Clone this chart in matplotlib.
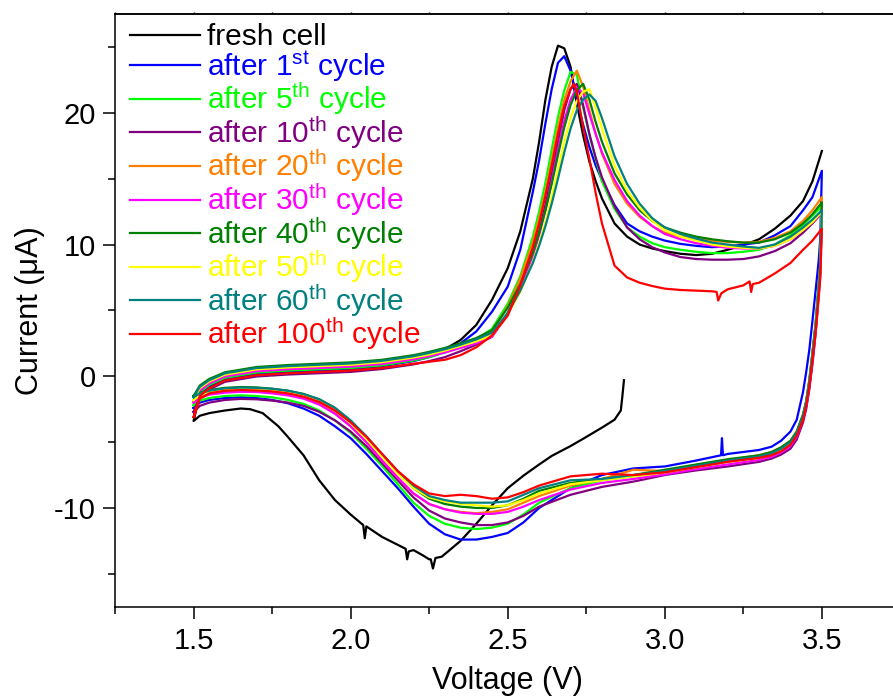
import numpy as np
import matplotlib
matplotlib.use('Agg')
import matplotlib.pyplot as plt
from matplotlib.ticker import MultipleLocator

plt.rcParams['font.family'] = ['Liberation Sans', 'DejaVu Sans']
plt.rcParams['mathtext.fontset'] = 'custom'
plt.rcParams['mathtext.rm'] = 'Liberation Sans'
plt.rcParams['mathtext.it'] = 'Liberation Sans:italic'
plt.rcParams['mathtext.bf'] = 'Liberation Sans:bold'
plt.rcParams['axes.unicode_minus'] = False

# ---- data (V, uA) ----
# anodic sweep voltages, 1.5 -> 3.5 V
V_UP = [1.50, 1.52, 1.55, 1.60, 1.70, 1.80, 1.90, 2.00, 2.10, 2.20,
        2.25, 2.30, 2.35, 2.40, 2.45, 2.50, 2.54, 2.58, 2.60, 2.62,
        2.64, 2.66, 2.68, 2.70, 2.72, 2.74, 2.76, 2.78, 2.80, 2.84,
        2.88, 2.92, 2.96, 3.00, 3.05, 3.10, 3.15, 3.20, 3.25, 3.30,
        3.35, 3.40, 3.44, 3.47, 3.50]
# cathodic sweep voltages, 3.5 -> 1.5 V
V_DN = [3.50, 3.495, 3.49, 3.48, 3.47, 3.46, 3.45, 3.44, 3.42, 3.40,
        3.37, 3.34, 3.30, 3.20, 3.10, 3.00, 2.90, 2.80, 2.70, 2.60,
        2.55, 2.50, 2.45, 2.40, 2.35, 2.30, 2.25, 2.20, 2.15, 2.10,
        2.05, 2.00, 1.95, 1.90, 1.85, 1.80, 1.75, 1.70, 1.65, 1.60,
        1.55, 1.52, 1.50]

# fresh cell: OCV -> 1.5 V, then 1.5 -> 3.5 V
fresh_dn_v = [2.87, 2.865, 2.86, 2.84, 2.80, 2.74, 2.70, 2.64, 2.60, 2.55,
              2.50, 2.45, 2.40, 2.35, 2.32, 2.29, 2.27, 2.262, 2.255, 2.25,
              2.23, 2.20, 2.185, 2.18, 2.175, 2.15, 2.10, 2.05, 2.045, 2.04,
              2.00, 1.95, 1.90, 1.85, 1.80, 1.77, 1.72, 1.68, 1.65, 1.60,
              1.55, 1.52, 1.50]
fresh_dn = [-0.3, -1.5, -2.6, -3.3, -3.9, -4.75, -5.3, -6.05, -6.7, -7.55,
            -8.5, -9.8, -11.2, -12.5, -13.1, -13.7, -13.8, -14.6, -13.9, -13.9,
            -13.6, -13.2, -13.3, -13.9, -13.1, -12.8, -12.2, -11.4, -12.3, -11.3,
            -10.5, -9.4, -7.9, -6.0, -4.6, -3.8, -2.8, -2.5, -2.45, -2.6,
            -2.8, -3.0, -3.4]
fresh_up = [-3.4, -1.4, -0.8, -0.25, 0.15, 0.3, 0.4, 0.52, 0.78, 1.2,
            1.55, 2.05, 2.75, 3.9, 5.8, 8.2, 11.0, 15.0, 17.8, 21.0,
            23.5, 25.1, 24.9, 23.5, 20.7, 18.3, 16.3, 14.8, 13.5, 11.6,
            10.6, 10.0, 9.7, 9.5, 9.3, 9.2, 9.3, 9.6, 9.95, 10.4,
            11.2, 12.2, 13.3, 14.8, 17.1]

# after 1st cycle (own cathodic grid, it has a spike near 3.18 V)
c1_up = [-2.4, -1.3, -0.75, -0.2, 0.2, 0.35, 0.45, 0.55, 0.78, 1.15,
         1.45, 1.85, 2.5, 3.4, 4.9, 6.8, 9.6, 14.0, 16.4, 19.2,
         21.8, 23.8, 24.3, 23.2, 21.0, 19.1, 17.4, 16.0, 14.9, 13.0,
         11.6, 11.0, 10.6, 10.3, 10.05, 9.9, 9.8, 9.85, 10.0, 10.15,
         10.7, 11.4, 12.6, 13.6, 15.6]
c1_dn_v = [3.50, 3.495, 3.49, 3.48, 3.47, 3.46, 3.45, 3.44, 3.42, 3.40,
           3.37, 3.34, 3.30, 3.20, 3.185, 3.182, 3.179, 3.10, 3.00, 2.90,
           2.80, 2.70, 2.60, 2.55, 2.50, 2.45, 2.40, 2.35, 2.30, 2.25,
           2.20, 2.15, 2.10, 2.05, 2.00, 1.95, 1.90, 1.85, 1.80, 1.75,
           1.70, 1.65, 1.60, 1.55, 1.52, 1.50]
c1_dn = [15.6, 10.5, 8.8, 6.5, 4.2, 2.0, 0.3, -1.2, -3.3, -4.2,
         -4.9, -5.35, -5.6, -5.9, -6.0, -4.7, -6.0, -6.4, -6.85, -7.0,
         -7.5, -8.5, -10.0, -11.1, -11.9, -12.2, -12.4, -12.4, -12.0, -11.2,
         -9.9, -8.5, -7.2, -5.9, -4.7, -3.8, -3.0, -2.45, -2.05, -1.8,
         -1.65, -1.6, -1.65, -1.8, -2.0, -2.4]

c5_up = [-2.2, -1.2, -0.65, -0.12, 0.28, 0.43, 0.53, 0.63, 0.83, 1.2,
         1.45, 1.8, 2.25, 2.8, 3.6, 5.5, 7.6, 10.6, 12.5, 14.7,
         17.2, 19.7, 21.7, 23.1, 22.9, 20.4, 18.3, 16.5, 14.8, 12.7,
         11.3, 10.6, 10.1, 9.8, 9.6, 9.45, 9.35, 9.35, 9.45, 9.6,
         10.0, 10.7, 11.5, 12.2, 12.9]
c5_dn = [12.9, 8.3, 6.8, 3.8, 1.6, -0.4, -2.0, -3.0, -4.3, -5.0,
         -5.45, -5.8, -6.1, -6.5, -6.9, -7.3, -7.6, -7.9, -8.5, -9.6,
         -10.5, -11.2, -11.5, -11.6, -11.5, -11.2, -10.6, -9.6, -8.2, -6.8,
         -5.5, -4.3, -3.35, -2.6, -2.1, -1.8, -1.6, -1.5, -1.45, -1.5,
         -1.65, -1.85, -2.2]

c10_up = [-2.7, -1.6, -1.0, -0.42, -0.02, 0.13, 0.23, 0.33, 0.55, 0.9,
          1.15, 1.45, 1.9, 2.4, 3.0, 4.8, 6.8, 9.4, 11.0, 13.0,
          15.3, 17.8, 20.2, 21.8, 22.2, 20.6, 18.4, 16.6, 15.1, 12.9,
          11.3, 10.4, 9.8, 9.4, 9.05, 8.9, 8.85, 8.85, 8.9, 9.1,
          9.5, 10.1, 10.9, 11.6, 12.4]
c10_dn = [12.4, 7.8, 6.2, 3.2, 0.9, -1.0, -2.5, -3.5, -4.8, -5.5,
          -5.95, -6.25, -6.5, -6.85, -7.15, -7.5, -8.0, -8.4, -9.0, -9.9,
          -10.6, -11.1, -11.3, -11.3, -11.1, -10.8, -10.2, -9.2, -7.9, -6.6,
          -5.3, -4.2, -3.35, -2.7, -2.25, -2.0, -1.85, -1.75, -1.72, -1.8,
          -2.0, -2.25, -2.7]

c20_up = [-1.9, -1.0, -0.45, 0.05, 0.45, 0.6, 0.7, 0.8, 1.0, 1.35,
          1.62, 1.95, 2.35, 2.8, 3.4, 5.3, 7.4, 10.2, 12.0, 14.0,
          16.4, 18.9, 21.0, 22.4, 23.2, 22.0, 20.2, 18.4, 16.9, 14.6,
          13.1, 12.1, 11.4, 10.9, 10.6, 10.45, 10.3, 10.2, 10.15, 10.2,
          10.5, 11.0, 11.8, 12.6, 13.6]
c20_dn = [13.6, 8.6, 7.0, 4.0, 1.8, -0.3, -1.9, -2.9, -4.2, -4.9,
          -5.4, -5.75, -6.0, -6.4, -6.8, -7.2, -7.1, -7.8, -8.3, -9.1,
          -9.6, -10.1, -10.3, -10.4, -10.3, -10.1, -9.7, -8.9, -7.7, -6.4,
          -5.0, -3.8, -2.8, -2.1, -1.65, -1.4, -1.25, -1.15, -1.12, -1.18,
          -1.35, -1.6, -1.9]

c30_up = [-2.0, -1.1, -0.55, -0.02, 0.38, 0.53, 0.63, 0.73, 0.93, 1.28,
          1.52, 1.8, 2.15, 2.5, 3.0, 4.7, 6.6, 9.1, 10.7, 12.6,
          14.8, 17.2, 19.4, 21.0, 21.9, 21.5, 19.9, 18.4, 17.0, 14.9,
          13.3, 12.2, 11.4, 10.8, 10.4, 10.1, 9.9, 9.75, 9.7, 9.7,
          9.9, 10.4, 11.1, 11.7, 12.4]
c30_dn = [12.4, 7.9, 6.3, 3.4, 1.2, -0.8, -2.3, -3.3, -4.6, -5.3,
          -5.8, -6.1, -6.35, -6.7, -7.05, -7.45, -7.8, -8.1, -8.6, -9.4,
          -9.9, -10.3, -10.45, -10.45, -10.35, -10.1, -9.7, -8.9, -7.7, -6.4,
          -5.0, -3.8, -2.85, -2.15, -1.7, -1.45, -1.3, -1.2, -1.18, -1.25,
          -1.4, -1.65, -2.0]

c40_up = [-1.5, -0.7, -0.2, 0.3, 0.7, 0.85, 0.95, 1.05, 1.25, 1.6,
          1.85, 2.15, 2.5, 2.9, 3.5, 5.2, 7.0, 9.4, 10.9, 12.6,
          14.6, 16.8, 18.9, 20.6, 21.7, 22.2, 21.0, 19.3, 17.8, 15.4,
          13.8, 12.6, 11.8, 11.3, 10.9, 10.6, 10.4, 10.25, 10.15, 10.15,
          10.4, 10.9, 11.6, 12.3, 13.2]
c40_dn = [13.2, 8.5, 7.0, 4.0, 1.8, -0.3, -1.9, -2.9, -4.2, -4.9,
          -5.4, -5.75, -6.0, -6.3, -6.7, -7.1, -7.5, -7.8, -8.1, -8.7,
          -9.3, -9.8, -10.0, -10.0, -9.9, -9.7, -9.3, -8.5, -7.3, -6.0,
          -4.6, -3.4, -2.4, -1.75, -1.35, -1.1, -0.95, -0.85, -0.82, -0.88,
          -1.05, -1.25, -1.5]

c50_up = [-1.8, -0.9, -0.4, 0.12, 0.52, 0.67, 0.77, 0.87, 1.07, 1.42,
          1.65, 1.95, 2.3, 2.65, 3.1, 4.7, 6.4, 8.7, 10.1, 11.7,
          13.6, 15.7, 17.8, 19.6, 20.9, 21.6, 21.8, 20.4, 18.8, 16.0,
          14.1, 12.8, 11.8, 11.1, 10.6, 10.3, 10.0, 9.85, 9.75, 9.7,
          9.9, 10.4, 11.1, 11.7, 12.5]
c50_dn = [12.5, 8.1, 6.6, 3.6, 1.5, -0.5, -2.1, -3.1, -4.4, -5.1,
          -5.6, -5.95, -6.2, -6.5, -6.9, -7.3, -7.6, -7.9, -8.2, -8.9,
          -9.4, -9.8, -9.9, -9.8, -9.7, -9.5, -9.2, -8.5, -7.4, -6.1,
          -4.75, -3.55, -2.55, -1.9, -1.5, -1.25, -1.1, -1.0, -0.98, -1.02,
          -1.2, -1.45, -1.8]

c60_up = [-1.6, -0.8, -0.3, 0.22, 0.62, 0.77, 0.87, 0.97, 1.17, 1.52,
          1.77, 2.05, 2.4, 2.8, 3.3, 4.8, 6.5, 8.6, 9.9, 11.4,
          13.1, 15.0, 17.0, 18.8, 20.2, 21.0, 21.4, 20.9, 19.6, 16.7,
          14.6, 13.1, 12.0, 11.3, 10.8, 10.45, 10.15, 10.0, 9.85, 9.75,
          10.0, 10.6, 11.3, 11.9, 12.6]
c60_dn = [12.6, 8.2, 6.7, 3.7, 1.6, -0.4, -2.0, -3.0, -4.3, -5.0,
          -5.5, -5.85, -6.1, -6.4, -6.8, -7.2, -7.5, -7.8, -7.9, -8.5,
          -9.0, -9.5, -9.6, -9.6, -9.6, -9.4, -9.1, -8.3, -7.2, -5.9,
          -4.55, -3.35, -2.4, -1.75, -1.35, -1.1, -0.95, -0.88, -0.86, -0.92,
          -1.1, -1.3, -1.6]

# after 100th cycle (own anodic grid, dips near 3.17 and 3.28 V)
c100_up_v = [1.50, 1.52, 1.55, 1.60, 1.70, 1.80, 1.90, 2.00, 2.10, 2.20,
             2.25, 2.30, 2.35, 2.40, 2.45, 2.50, 2.54, 2.58, 2.60, 2.62,
             2.64, 2.66, 2.68, 2.70, 2.71, 2.72, 2.74, 2.76, 2.78, 2.80,
             2.84, 2.88, 2.92, 2.96, 3.00, 3.05, 3.10, 3.15, 3.165, 3.17,
             3.18, 3.20, 3.25, 3.27, 3.275, 3.28, 3.30, 3.35, 3.40, 3.44,
             3.47, 3.50]
c100_up = [-3.1, -1.5, -0.9, -0.32, 0.08, 0.23, 0.33, 0.43, 0.63, 0.95,
           1.1, 1.25, 1.6, 2.2, 3.1, 4.6, 6.9, 9.8, 11.6, 13.7,
           16.0, 18.4, 20.5, 21.8, 22.2, 21.6, 18.9, 16.5, 13.9, 11.6,
           8.4, 7.5, 7.1, 6.85, 6.65, 6.55, 6.5, 6.45, 6.4, 5.75,
           6.3, 6.6, 6.9, 7.2, 6.4, 7.0, 7.1, 7.8, 8.6, 9.6,
           10.3, 11.2]
c100_dn = [11.2, 7.5, 6.0, 3.3, 1.2, -0.8, -2.3, -3.3, -4.5, -5.2,
           -5.7, -6.0, -6.2, -6.5, -6.9, -7.3, -7.5, -7.4, -7.6, -8.3,
           -8.8, -9.2, -9.3, -9.1, -9.0, -9.1, -8.9, -8.2, -7.2, -5.9,
           -4.6, -3.5, -2.6, -1.95, -1.55, -1.3, -1.15, -1.08, -1.05, -1.1,
           -1.3, -1.7, -3.1]

labels = ['fresh cell',
          r'after 1$^{\mathrm{st}}$ cycle',
          r'after 5$^{\mathrm{th}}$ cycle',
          r'after 10$^{\mathrm{th}}$ cycle',
          r'after 20$^{\mathrm{th}}$ cycle',
          r'after 30$^{\mathrm{th}}$ cycle',
          r'after 40$^{\mathrm{th}}$ cycle',
          r'after 50$^{\mathrm{th}}$ cycle',
          r'after 60$^{\mathrm{th}}$ cycle',
          r'after 100$^{\mathrm{th}}$ cycle']
colors = ['#000000', '#0000FF', '#00FF00', '#800080', '#FF8000',
          '#FF00FF', '#008000', '#FFFF00', '#008080', '#FF0000']

# each trace as (voltages, currents) in sweep order
traces = [
    (fresh_dn_v + V_UP, fresh_dn + fresh_up),
    (V_UP + c1_dn_v, c1_up + c1_dn),
    (V_UP + V_DN, c5_up + c5_dn),
    (V_UP + V_DN, c10_up + c10_dn),
    (V_UP + V_DN, c20_up + c20_dn),
    (V_UP + V_DN, c30_up + c30_dn),
    (V_UP + V_DN, c40_up + c40_dn),
    (V_UP + V_DN, c50_up + c50_dn),
    (V_UP + V_DN, c60_up + c60_dn),
    (c100_up_v + V_DN, c100_up + c100_dn),
]

fig = plt.figure(figsize=(8.93, 6.99), dpi=100)
ax = fig.add_axes([0.1288, 0.1320, 0.8795, 0.8479])

for (v, i), lab, col in zip(traces, labels, colors):
    ax.plot(v, i, color=col, lw=1.6, label=lab)

ax.set_xlim(1.25, 3.75)
ax.set_ylim(-17.5, 27.5)
ax.xaxis.set_major_locator(MultipleLocator(0.5))
ax.xaxis.set_minor_locator(MultipleLocator(0.25))
ax.yaxis.set_major_locator(MultipleLocator(10))
ax.yaxis.set_minor_locator(MultipleLocator(5))
ax.xaxis.set_major_formatter(matplotlib.ticker.FormatStrFormatter('%.1f'))

for s in ['left', 'bottom', 'top']:
    ax.spines[s].set_linewidth(1.1)
ax.spines['right'].set_visible(False)
ax.tick_params(which='major', direction='out', length=8.5, width=1.1,
               labelsize=21)
ax.tick_params(which='minor', direction='out', length=5, width=1.1)
ax.tick_params(axis='x', which='major', pad=6)
ax.tick_params(axis='y', which='major', pad=5.5)

top = ax.secondary_xaxis('top')
top.xaxis.set_major_locator(MultipleLocator(0.25))
top.tick_params(direction='out', length=1.5, width=1.0, labeltop=False)
top.spines['top'].set_linewidth(1.1)

ax.set_xlabel('Voltage (V)', fontsize=22, labelpad=8)
ax.set_ylabel('Current (μA)', fontsize=22, labelpad=6)

ax.legend(loc='upper left', bbox_to_anchor=(0.0, 1.0095), frameon=False,
          fontsize=21.5, handlelength=2.35, handletextpad=0.22,
          labelspacing=-0.1, borderaxespad=0.1, borderpad=0.4,
          labelcolor='linecolor')

fig.savefig('out.png', dpi=100)
